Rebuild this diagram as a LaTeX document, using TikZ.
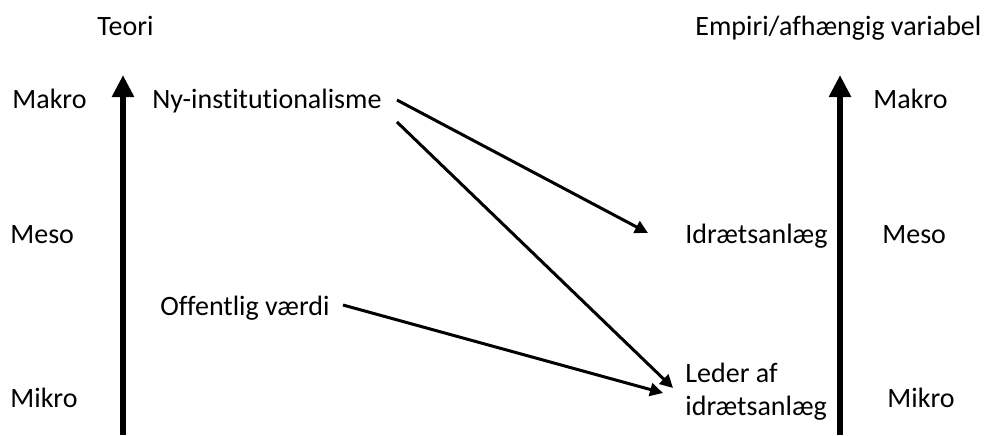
\documentclass[tikz,border=0pt]{standalone}
\usepackage{fontspec}
\setmainfont{Carlito}[Ligatures={NoCommon}]
\usetikzlibrary{arrows.meta}

\begin{document}
\begin{tikzpicture}[x=0.5pt,y=-0.5pt,font=\fontsize{14pt}{16.5pt}\selectfont,
  label node/.style={inner sep=0pt,anchor=base west},
  axis/.style={line width=3pt,-{Triangle[length=11pt,width=10.5pt]}},
  link/.style={line width=1.5pt,-{Triangle[length=6.5pt,width=6.5pt]}}]
  \useasboundingbox (0,0) rectangle (985,435);

  \node[label node] (teori) at (97,35) {Teori};
  \node[label node] (empiri) at (695,35) {Empiri/afhængig variabel};
  \node[label node] (makro1) at (12,108) {Makro};
  \node[label node] (meso1) at (10,243) {Meso};
  \node[label node] (mikro1) at (10,407) {Mikro};
  \node[label node] (makro2) at (873,108) {Makro};
  \node[label node] (meso2) at (882,243) {Meso};
  \node[label node] (mikro2) at (887,407) {Mikro};
  \node[label node] (ny) at (152,108) {Ny-institutionalisme};
  \node[label node] (off) at (160,315) {Offentlig værdi};
  \node[label node] (idr) at (685,243) {Idrætsanlæg};
  \node[label node,align=left] (leder) at (685,415) {Leder af\\idrætsanlæg};

  \coordinate (lbot) at (123,435);
  \coordinate (ltop) at (123,75);
  \coordinate (rbot) at (840,435);
  \coordinate (rtop) at (840,75);

\draw[axis] (lbot) -- (ltop);
\draw[axis] (rbot) -- (rtop);

\path[link]
  ([shift={(15,-8)}]ny.base east) edge ([shift={(-37,-10)}]idr.base west)
  ([shift={(15,14)}]ny.base east) edge ([shift={(-12,-27)}]leder.base west)
  ([shift={(13,-10)}]off.base east) edge ([shift={(-22,-22)}]leder.base west)
;
\end{tikzpicture}
\end{document}
